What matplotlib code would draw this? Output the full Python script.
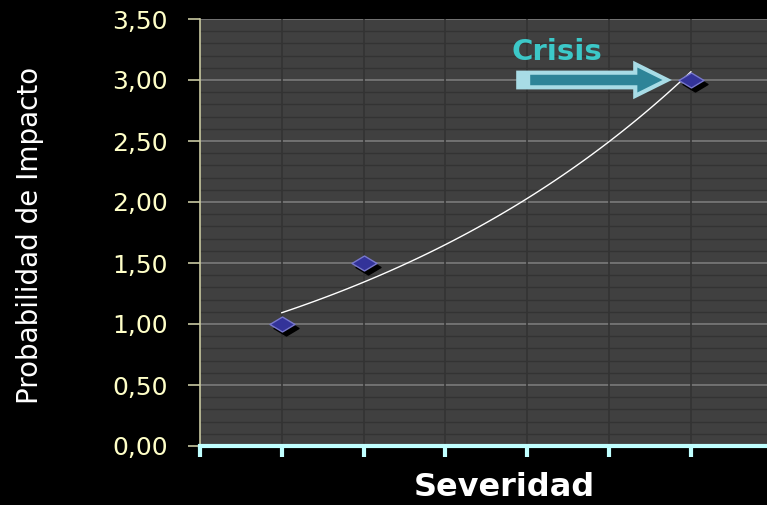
import matplotlib.pyplot as plt
import matplotlib.transforms as mtransforms
import numpy as np
from matplotlib.path import Path
from matplotlib.patches import FancyArrow, Rectangle

# datos del gráfico
severidad = [1, 2, 6]
probabilidad = [1.0, 1.5, 3.0]
y_ticks = [0.0, 0.5, 1.0, 1.5, 2.0, 2.5, 3.0, 3.5]

fig = plt.figure(figsize=(7.67, 5.05), dpi=100, facecolor="black")
ax = fig.add_axes([200 / 767, 59 / 505, 567 / 767, 427 / 505])
ax.set_facecolor("#404040")

ax.set_xlim(0, 6.93)
ax.set_ylim(0, 3.5)

# líneas de la cuadrícula
for y in np.arange(0.1, 3.5, 0.1):
    ax.axhline(y, color="#333333", linewidth=1, zorder=0)
for y in y_ticks[1:]:
    ax.axhline(y, color="#7c7c7c", linewidth=1.2, zorder=0.5)
for x in range(1, 7):
    ax.axvline(x, color="#333333", linewidth=1.2, zorder=0.6)

# línea de tendencia exponencial
b, a = np.polyfit(severidad, np.log(probabilidad), 1)
xs = np.linspace(severidad[0], severidad[-1], 100)
ax.plot(xs, np.exp(a + b * xs), color="white", linewidth=1, zorder=2)

# rombos con sombra
rombo = Path([(-1, 0), (0, 0.6), (1, 0), (0, -0.6), (-1, 0)],
             [Path.MOVETO, Path.LINETO, Path.LINETO, Path.LINETO, Path.CLOSEPOLY])
sombra = mtransforms.offset_copy(ax.transData, fig=fig, x=4, y=-4, units="dots")
ax.plot(severidad, probabilidad, linestyle="none", marker=rombo, markersize=18,
        color="black", transform=sombra, zorder=3)
ax.plot(severidad, probabilidad, linestyle="none", marker=rombo, markersize=18,
        markerfacecolor="#333399", markeredgecolor="#7777cc", markeredgewidth=1, zorder=4)

# flecha "Crisis"
flecha = FancyArrow(3.89, 3.0, 1.82, 0, width=0.12, head_width=0.26, head_length=0.39,
                    length_includes_head=True, facecolor="#2e8498", edgecolor="#a8dce6",
                    linewidth=3, zorder=5)
ax.add_patch(flecha)
ax.add_patch(Rectangle((3.89, 2.94), 0.13, 0.12, facecolor="#a8dce6",
                       edgecolor="#a8dce6", linewidth=1, zorder=6))
ax.text(4.36, 3.23, "Crisis", color="#3cc8c8", fontsize=21, fontweight="bold",
        ha="center", va="center", zorder=6)

# ejes
ax.set_yticks(y_ticks)
ax.set_yticklabels([f"{v:.2f}".replace(".", ",") for v in y_ticks])
ax.set_xticks(range(0, 7))
ax.set_xticklabels([])
ax.tick_params(axis="y", colors="#c8c8a0", length=9, width=1.2, labelsize=18,
               labelcolor="#ffffc8", pad=14)
ax.tick_params(axis="x", colors="#c0ffff", length=8, width=3, direction="out")
for s in ["top", "right"]:
    ax.spines[s].set_visible(False)
ax.spines["left"].set_color("#c8c8a0")
ax.spines["left"].set_linewidth(1.2)
ax.spines["bottom"].set_color("#c0ffff")
ax.spines["bottom"].set_linewidth(3)

fig.text(504 / 767, 1 - 496 / 505, "Severidad", color="white", fontsize=23,
         fontweight="bold", ha="center", va="baseline")
fig.text(30 / 767, 1 - 235 / 505, "Probabilidad de Impacto", color="white", fontsize=20,
         rotation=90, ha="center", va="center")

fig.savefig("out.png", dpi=100, facecolor="black")
